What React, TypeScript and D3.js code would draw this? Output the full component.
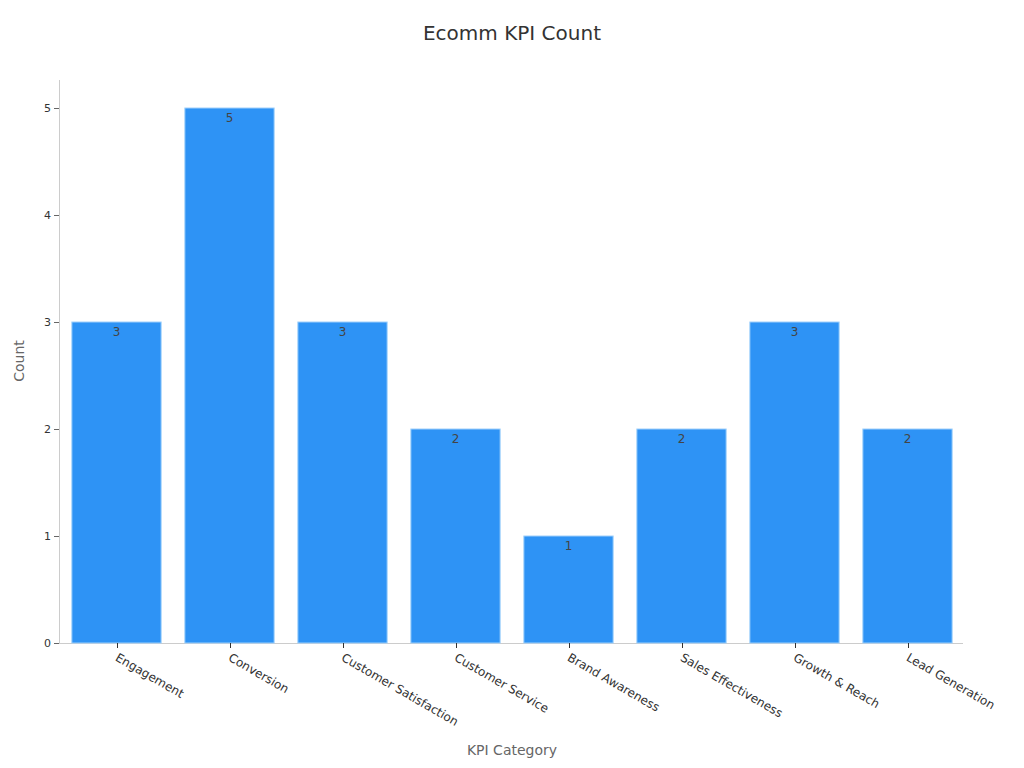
import React, { useEffect, useRef } from "react";
import * as d3 from "d3";

const categories = [
  "Engagement",
  "Conversion",
  "Customer Satisfaction",
  "Customer Service",
  "Brand Awareness",
  "Sales Effectiveness",
  "Growth & Reach",
  "Lead Generation",
];
const counts = [3, 5, 3, 2, 1, 2, 3, 2];
const yTicks = [0, 1, 2, 3, 4, 5];

const W = 1024;
const H = 768;
const FONT = "DejaVu Sans, sans-serif";

export default function App() {
  const ref = useRef<SVGSVGElement>(null);
  useEffect(() => {
    const svg = d3.select(ref.current);
    svg.selectAll("*").remove();
    const left = 59, right = 963, top = 80, bottom = 643;
    const x = d3.scaleBand<string>().domain(categories).range([left + 1, right + 1]).paddingInner(0.21).paddingOuter(0.105);
    const y = d3.scaleLinear().domain([0, 5]).range([bottom, 108]);

    svg.append("text").attr("x", 512).attr("y", 40).attr("text-anchor", "middle")
      .attr("font-size", 20).attr("fill", "#333").attr("font-family", FONT).text("Ecomm KPI Count");

    svg.append("line").attr("x1", left + 0.5).attr("x2", left + 0.5).attr("y1", top).attr("y2", bottom)
      .attr("stroke", "#ccc");
    svg.append("line").attr("x1", left).attr("x2", right).attr("y1", bottom + 0.5).attr("y2", bottom + 0.5)
      .attr("stroke", "#ccc");

    const yg = svg.append("g");
    yTicks.forEach((t) => {
      yg.append("line").attr("x1", left - 5).attr("x2", left).attr("y1", y(t) + 0.5).attr("y2", y(t) + 0.5)
        .attr("stroke", "#666");
      yg.append("text").attr("x", left - 8).attr("y", y(t)).attr("dy", "0.35em").attr("text-anchor", "end")
        .attr("font-size", 11).attr("fill", "#333").attr("font-family", FONT).text(t);
    });

    svg.append("g").selectAll("rect").data(categories).join("rect")
      .attr("x", (d) => x(d)!)
      .attr("y", (d, i) => y(counts[i]))
      .attr("width", x.bandwidth())
      .attr("height", (d, i) => bottom - y(counts[i]))
      .attr("fill", "#2E93F5")
      .attr("stroke", "#9fd0fb")
      .attr("stroke-width", 1);

    svg.append("g").selectAll("text").data(categories).join("text")
      .attr("x", (d) => x(d)! + x.bandwidth() / 2)
      .attr("y", (d, i) => y(counts[i]) + 14)
      .attr("text-anchor", "middle").attr("font-size", 12).attr("fill", "#444").attr("font-family", FONT)
      .text((d, i) => counts[i]);

    const xg = svg.append("g");
    categories.forEach((c) => {
      const cx = Math.round(x(c)! + x.bandwidth() / 2) + 0.5;
      xg.append("line").attr("x1", cx).attr("x2", cx).attr("y1", bottom).attr("y2", bottom + 5).attr("stroke", "#333");
      xg.append("text").attr("transform", `translate(${cx - 3},${bottom + 17}) rotate(30)`)
        .attr("font-size", 12).attr("fill", "#333").attr("font-family", FONT).text(c);
    });

    svg.append("text").attr("x", 512).attr("y", 755).attr("text-anchor", "middle")
      .attr("font-size", 14).attr("fill", "#666").attr("font-family", FONT).text("KPI Category");
    svg.append("text").attr("transform", `translate(24,361) rotate(-90)`).attr("text-anchor", "middle")
      .attr("font-size", 14).attr("fill", "#666").attr("font-family", FONT).text("Count");
  }, []);
  return (
    <svg ref={ref} width={W} height={H} style={{ position: "absolute", left: 0, top: 0, background: "#fff" }} />
  );
}
